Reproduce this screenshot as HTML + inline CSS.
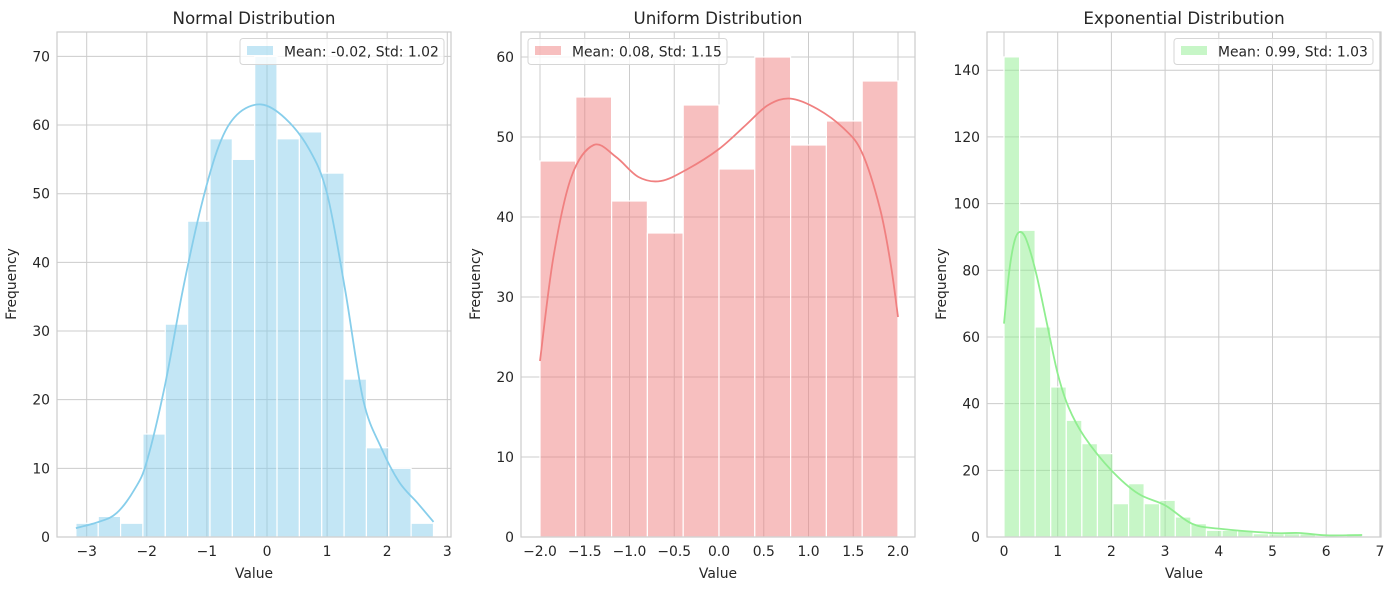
<!DOCTYPE html>
<html><head><meta charset="utf-8"><style>
html,body{margin:0;padding:0;background:#fff}
svg{display:block;font-family:"DejaVu Sans","Liberation Sans",sans-serif}
</style></head><body>
<svg id="s" width="1394" height="590" xmlns="http://www.w3.org/2000/svg"></svg>
<script>
const s=document.getElementById('s');let h='';
function panel(o){
 const X=v=>o.x0+(v-o.xv0)*o.xs, Y=v=>537-v*o.ys;
 h+=`<rect x="${o.L}" y="32" width="${o.R-o.L}" height="505" fill="#fff"/>`;
 o.yt.forEach(t=>{const y=Y(t);h+=`<line x1="${o.L}" x2="${o.R}" y1="${y}" y2="${y}" stroke="#cccccc" stroke-width="1"/><text x="${o.L-7}" y="${y+5}" font-size="13.9" fill="#262626" text-anchor="end">${t}</text>`;});
 o.xt.forEach(t=>{const x=X(t);h+=`<line x1="${x}" x2="${x}" y1="32" y2="537" stroke="#cccccc" stroke-width="1"/><text x="${x}" y="556" font-size="13.9" fill="#262626" text-anchor="middle">${o.fmt(t)}</text>`;});
 const w=(o.b1-o.b0)/o.bars.length;
 o.bars.forEach((v,i)=>{const x1=X(o.b0+i*w),x2=X(o.b0+(i+1)*w);h+=`<rect x="${x1}" y="${Y(v)}" width="${x2-x1}" height="${v*o.ys}" fill="${o.fill}" fill-opacity="0.5" stroke="#fff" stroke-width="1.2"/>`;});
 const p=o.kde.map(a=>[X(a[0]),Y(a[1])]);let d=`M${p[0][0]},${p[0][1]}`;
 for(let i=0;i<p.length-1;i++){const a=p[Math.max(0,i-1)],b=p[i],c=p[i+1],e=p[Math.min(p.length-1,i+2)];
  d+=` C${b[0]+(c[0]-a[0])/6},${b[1]+(c[1]-a[1])/6} ${c[0]-(e[0]-b[0])/6},${c[1]-(e[1]-b[1])/6} ${c[0]},${c[1]}`;}
 h+=`<path d="${d}" fill="none" stroke="${o.fill}" stroke-width="1.8"/>`;
 h+=`<rect x="${o.L}" y="32" width="${o.R-o.L}" height="505" fill="none" stroke="#cccccc" stroke-width="1.2"/>`;
 const cx=(o.L+o.R)/2;
 h+=`<text x="${cx}" y="24" font-size="16.7" fill="#262626" text-anchor="middle">${o.title}</text>`;
 h+=`<text x="${cx}" y="578" font-size="13.9" fill="#262626" text-anchor="middle">Value</text>`;
 h+=`<text transform="translate(${o.L-41},${284}) rotate(-90)" font-size="13.9" fill="#262626" text-anchor="middle">Frequency</text>`;
 h+=`<rect x="${o.lg}" y="38.5" width="${o.lw}" height="26" rx="3" fill="#fff" fill-opacity="0.8" stroke="#d6d6d6"/>`;
 h+=`<rect x="${o.lg+7}" y="46" width="26" height="9" fill="${o.fill}" fill-opacity="0.5"/>`;
 h+=`<text x="${o.lg+44}" y="56.5" font-size="13.9" fill="#262626">${o.leg}</text>`;
}
const m=v=>v<0?'\u2212'+(-v):''+v;
panel({L:57,R:451,x0:267,xv0:0,xs:60.1,ys:6.866,yt:[0,10,20,30,40,50,60,70],xt:[-3,-2,-1,0,1,2,3],fmt:m,
 b0:-3.18,b1:2.77,bars:[2,3,2,15,31,46,58,55,70,58,59,53,23,13,10,2],fill:"#87ceeb",
 kde:[[-3.18,1.3],[-2.8,2.2],[-2.5,3.5],[-2.2,7],[-2,11],[-1.7,22],[-1.4,36],[-1.1,48],[-0.8,57],[-0.5,61.5],[-0.1,63],[0.3,61],[0.7,56.5],[1.0,50],[1.3,36],[1.6,20],[1.9,13],[2.2,8],[2.5,5],[2.77,2.2]],
 title:"Normal Distribution",lg:240,lw:204,leg:"Mean: -0.02, Std: 1.02"});
panel({L:521,R:915,x0:540,xv0:-2,xs:89.5,ys:8,yt:[0,10,20,30,40,50,60],xt:[-2,-1.5,-1,-0.5,0,0.5,1,1.5,2],fmt:v=>(v<0?'\u2212':'')+Math.abs(v).toFixed(1),
 b0:-2,b1:2,bars:[47,55,42,38,54,46,60,49,52,57],fill:"#f08080",
 kde:[[-2,22],[-1.85,35],[-1.65,45],[-1.4,49],[-1.15,47.5],[-0.9,45],[-0.65,44.5],[-0.35,46],[0,48.5],[0.3,51.5],[0.55,54],[0.8,54.8],[1.1,53.5],[1.4,51],[1.6,48],[1.8,41],[1.92,34],[2,27.5]],
 title:"Uniform Distribution",lg:528,lw:199,leg:"Mean: 0.08, Std: 1.15"});
panel({L:987,R:1381,x0:1004,xv0:0,xs:53.7,ys:3.334,yt:[0,20,40,60,80,100,120,140],xt:[0,1,2,3,4,5,6,7],fmt:v=>''+v,
 b0:0,b1:6.67,bars:[144,92,63,45,35,28,25,10,16,10,11,6,4,2,2,2,1,1,1,1,0,0,1],fill:"#90ee90",
 kde:[[0,64],[0.1,80],[0.2,89],[0.3,91.5],[0.42,89],[0.6,79],[0.8,64],[1.0,49],[1.2,39],[1.5,30],[2,20],[2.5,13],[3,9.5],[3.5,4],[4,2.5],[5,1.2],[5.5,1.2],[6,0.5],[6.67,0.6]],
 title:"Exponential Distribution",lg:1174,lw:199,leg:"Mean: 0.99, Std: 1.03"});
s.innerHTML=h;
</script>
</body></html>
